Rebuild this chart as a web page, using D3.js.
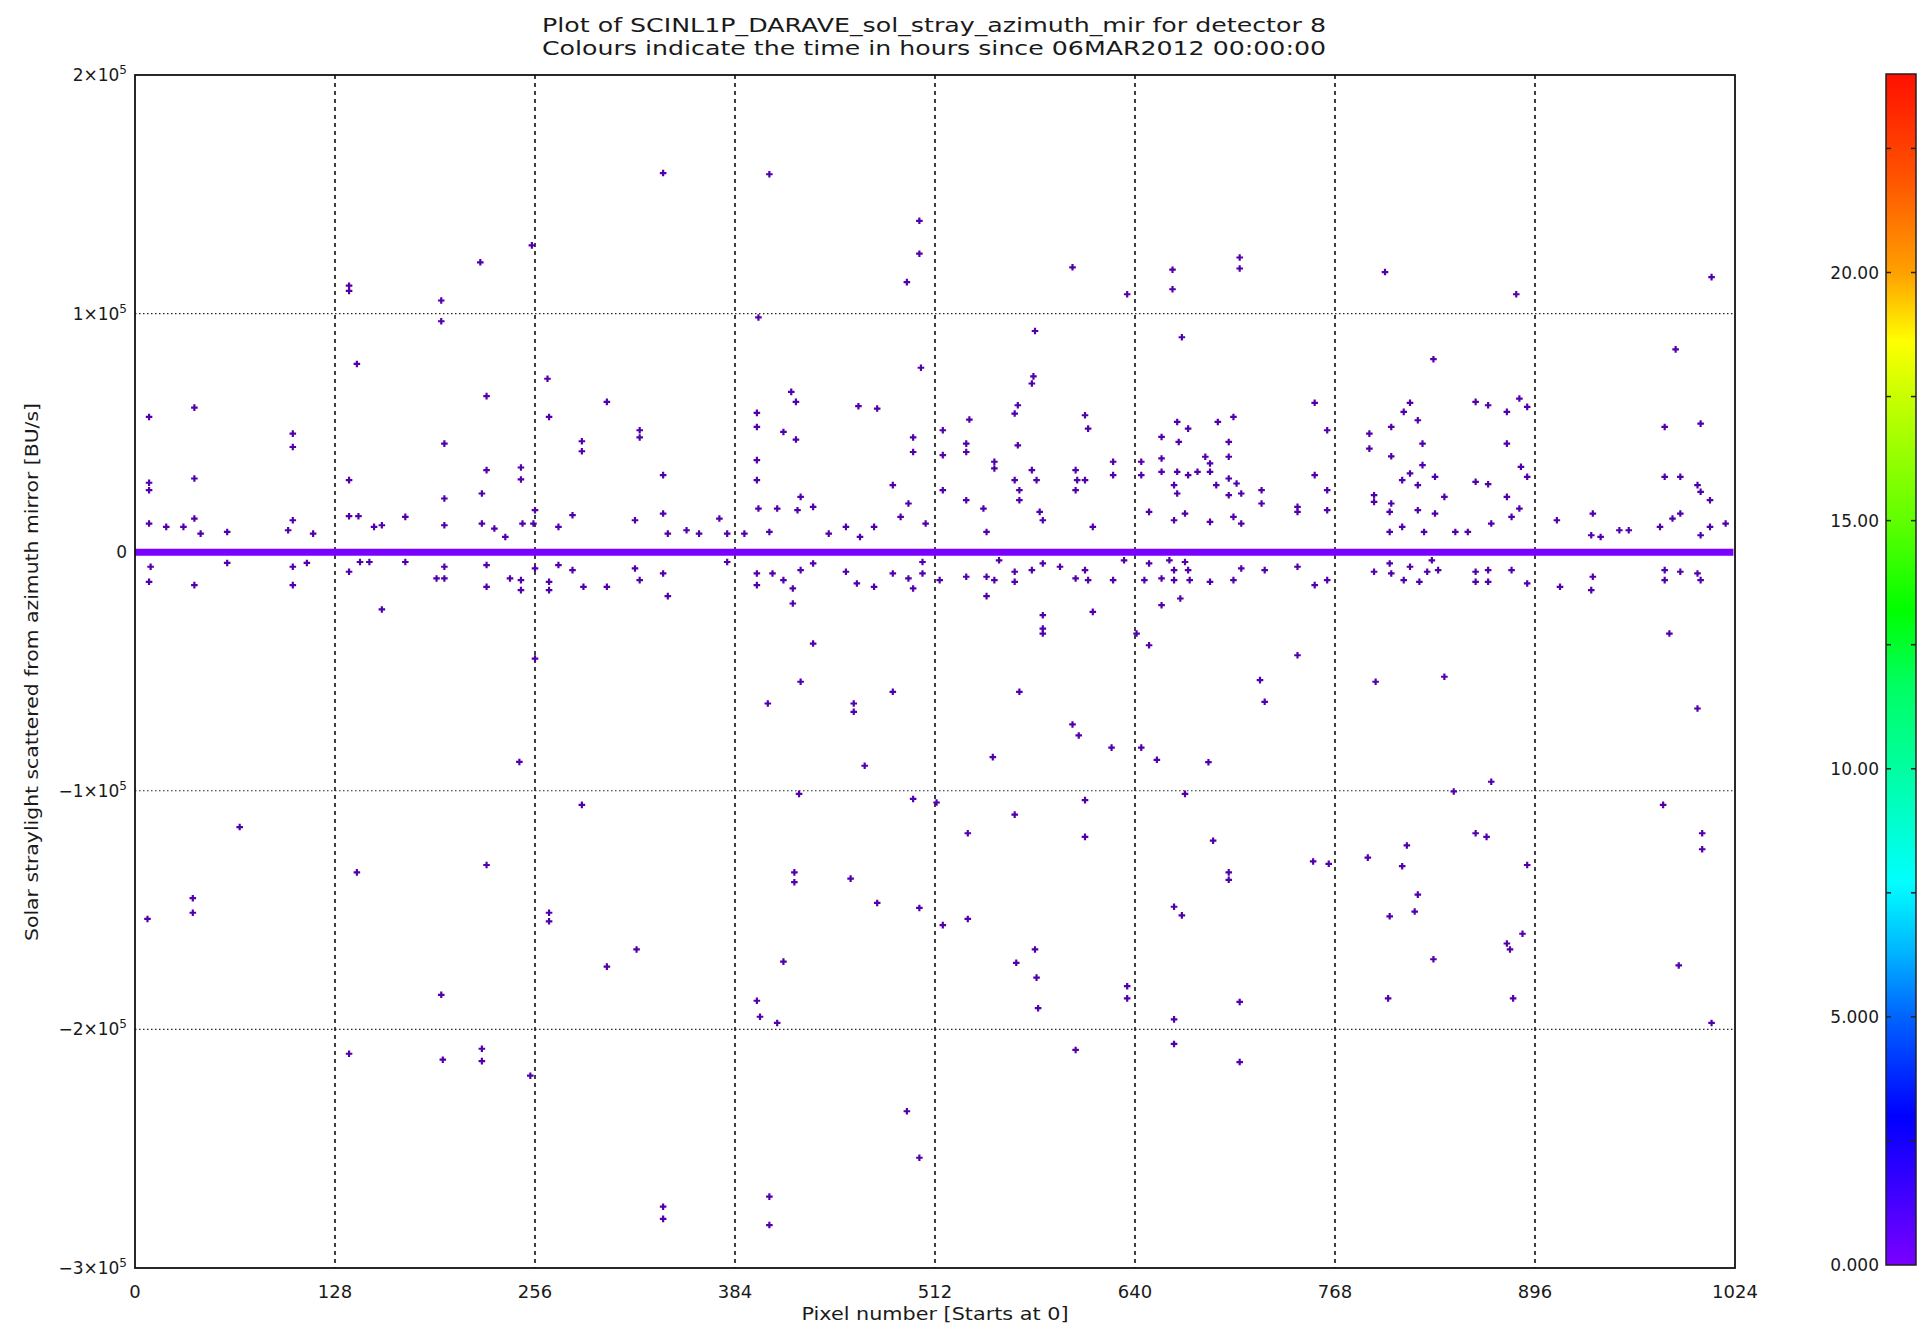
<!DOCTYPE html>
<html><head><meta charset="utf-8">
<script src="https://cdn.jsdelivr.net/npm/d3@7"></script>
<style>
body{margin:0;background:#fff}
text{font-family:"DejaVu Sans",sans-serif;fill:#1a1a1a}
</style>
</head><body><svg id="chart" width="1921" height="1331"></svg>
<script>
// ---------------- DATA ----------------
const titleLines = ["Plot of SCINL1P_DARAVE_sol_stray_azimuth_mir for detector 8",
                    "Colours indicate the time in hours since 06MAR2012 00:00:00"];
const xAxisTitle = "Pixel number [Starts at 0]";
const yAxisTitle = "Solar straylight scattered from azimuth mirror [BU/s]";
const xTicks = [0, 128, 256, 384, 512, 640, 768, 896, 1024];
const xGrid = [128, 256, 384, 512, 640, 768, 896];
// y values in units of 1000 BU/s
const yTicks = [-300, -200, -100, 0, 100, 200];
const yTickMantissa = ["\u22123", "\u22122", "\u22121", "0", "1", "2"];
const yGrid = [-200, -100, 100];
const colourTicks = [0, 5, 10, 15, 20];
const colourTickLabels = ["0.000", "5.000", "10.00", "15.00", "20.00"];
const colourMinorTicks = [2.5, 7.5, 12.5, 17.5, 22.5];
const colourRange = [0, 24];
const pointHours = 0; // all readings near the start of the day

// zero-level band (pixel, kBU/s)
const bandPixels = [0, 1023];
const bandValues = [0, 0];

// [pixel, kBU/s]
const farAbove = [[137,111.7],[137,109.5],[142,78.9],[196,105.5],[196,96.8],[221,121.5],[254,128.6],[264,72.7],[338,158.9],[399,98.4],[406,158.4],[494,113.2],[502,138.9],[502,125.1],[503,77.3],[576,92.7],[575,73.7],[574,70.7],[600,119.4],[635,108.1],[664,118.4],[664,110.2],[670,90.1],[707,123.5],[707,118.9],[800,117.4],[831,80.9],[884,108.1],[986,85.0],[1009,115.3]];

const midAbove = [[9,56.7],[38,60.6],[9,29.1],[9,26.0],[38,30.9],[101,49.7],[101,44.1],[198,45.5],[225,65.4],[225,34.4],[247,35.5],[247,30.5],[265,56.7],[286,46.5],[286,42.3],[302,63.0],[323,51.1],[323,48.1],[338,32.3],[398,58.4],[398,52.5],[398,38.6],[398,30.2],[420,67.2],[423,63.0],[415,50.4],[423,47.2],[426,23.2],[463,61.2],[475,60.2],[498,48.1],[498,42.0],[485,28.1],[137,30.2],[198,22.5],[222,24.6],[495,20.4],
[563,58.1],[565,61.6],[534,55.6],[517,51.1],[517,40.7],[532,45.5],[532,42.0],[565,44.8],[608,57.4],[610,51.8],[550,37.9],[550,35.1],[517,26.0],[532,21.8],[563,30.2],[566,26.0],[566,21.8],[574,34.4],[577,30.2],[602,34.4],[603,30.2],[608,30.2],[602,26.0],[626,37.9],[626,32.3],[667,54.6],[674,51.8],[693,54.6],[703,56.7],[657,48.3],[668,46.2],[700,46.2],[644,37.9],[657,39.3],[685,40.0],[688,37.2],[700,40.0],[644,32.3],[657,33.7],[667,33.7],[674,32.3],[680,33.7],[688,33.7],[700,30.9],[705,28.8],[665,28.1],[667,24.6],[692,28.1],[700,23.9],[708,24.6],[721,26.0],[721,20.4],[763,51.1],[755,62.6],[755,32.3],[763,26.0],[790,49.7],[790,43.4],[804,52.5],[821,55.3],[816,62.6],[812,58.8],[824,45.5],[824,36.5],[804,40.2],[816,33.0],[832,31.6],[811,30.2],[821,28.1],[793,23.9],[793,21.1],[804,20.4],[838,23.2],[878,23.2],[887,35.8],[878,45.5],[858,63.0],[866,61.6],[878,58.8],[886,64.4],[891,60.9],[858,29.5],[866,28.5],[891,31.6],[979,52.5],[1002,53.9],[979,31.6],[989,31.6],[1000,28.1],[1002,25.3],[1008,21.8]];

const nearAbove = [[9,12.0],[20,10.6],[31,10.6],[38,14.1],[42,7.8],[59,8.5],[101,13.4],[98,9.2],[114,7.8],[137,15.1],[143,15.1],[153,10.6],[158,11.3],[173,14.8],[198,11.3],[222,12.0],[230,9.9],[237,6.4],[248,12.0],[256,17.6],[255,12.0],[271,10.6],[280,15.5],[320,13.4],[338,16.2],[341,7.8],[353,9.2],[361,7.8],[374,14.1],[379,7.8],[390,7.8],[399,18.3],[406,8.5],[411,18.3],[424,17.6],[434,19.0],[444,7.8],[455,10.6],[464,6.4],[473,10.6],[490,14.8],[506,12.0],
[543,18.3],[579,16.9],[581,13.4],[545,8.5],[613,10.6],[649,16.9],[672,16.2],[688,12.7],[665,13.4],[703,14.8],[708,12.0],[744,19.0],[744,16.9],[763,17.6],[821,17.6],[832,16.2],[803,16.9],[803,8.5],[811,10.6],[825,8.5],[845,8.5],[853,8.5],[868,12.0],[881,14.8],[886,18.3],[933,16.2],[910,13.4],[932,7.1],[938,6.4],[950,9.2],[956,9.2],[976,10.6],[984,14.1],[989,16.2],[1008,10.6],[1018,12.0],[1002,7.1]];

const nearBelow = [[10,-6.1],[9,-12.4],[38,-13.8],[59,-4.5],[101,-6.1],[101,-13.8],[110,-4.5],[137,-8.2],[144,-4.1],[150,-4.1],[158,-24.0],[173,-4.1],[193,-11.0],[198,-11.0],[198,-6.1],[225,-14.5],[225,-5.4],[240,-11.0],[247,-11.7],[247,-15.9],[256,-6.8],[265,-12.4],[265,-15.9],[271,-5.4],[280,-7.5],[287,-14.5],[302,-14.5],[320,-6.8],[323,-11.7],[338,-8.9],[341,-18.4],[379,-4.1],[398,-8.9],[398,-13.8],[408,-8.9],[415,-11.7],[421,-15.2],[421,-21.5],[434,-4.7],[426,-7.5],[455,-8.2],[462,-13.1],[473,-14.5],[485,-8.9],[495,-11.0],[498,-15.2],[504,-8.9],[504,-4.1],
[515,-11.7],[532,-10.3],[545,-10.3],[550,-11.7],[545,-18.4],[553,-3.4],[563,-8.2],[563,-12.4],[574,-7.5],[581,-4.7],[592,-6.1],[602,-11.0],[608,-7.5],[610,-11.7],[626,-11.7],[633,-3.4],[613,-25.0],[646,-11.7],[657,-11.0],[665,-11.7],[675,-11.7],[688,-12.4],[703,-11.7],[665,-7.5],[674,-7.5],[649,-4.7],[662,-3.4],[672,-4.1],[708,-6.8],[723,-7.5],[744,-6.1],[755,-13.8],[763,-11.7],[793,-8.2],[804,-8.9],[812,-11.7],[822,-12.4],[816,-6.1],[827,-8.2],[834,-7.5],[803,-4.7],[830,-3.4],[858,-8.2],[866,-7.5],[858,-12.4],[866,-12.4],[881,-7.5],[891,-13.1],[912,-14.5],[932,-15.9],[933,-10.3],[979,-7.5],[979,-11.7],[989,-8.2],[1000,-8.9],[1002,-11.7],[669,-19.4],[657,-22.2]];

const midBelow = [[256,-44.6],[434,-38.3],[426,-54.3],[405,-63.4],[460,-63.4],[460,-66.9],[485,-58.5],[581,-26.4],[581,-32.0],[581,-34.1],[641,-34.1],[649,-39.0],[566,-58.5],[744,-43.2],[720,-53.6],[723,-62.7],[982,-34.1],[1000,-65.5],[838,-52.2],[794,-54.3],[600,-72.2],[604,-76.8]];

const farBelow = [[8,-153.7],[37,-145.0],[37,-151.1],[67,-115.2],[137,-210.2],[142,-134.2],[196,-185.5],[197,-212.7],[222,-208.1],[222,-213.3],[225,-131.1],[246,-87.9],[253,-219.4],[265,-151.1],[265,-154.7],[286,-105.9],[302,-173.7],[321,-166.5],[338,-274.3],[338,-279.4],[406,-270.1],[406,-282.0],[398,-188.0],[400,-194.7],[411,-197.3],[415,-171.6],[422,-134.2],[422,-138.3],[425,-101.3],[458,-136.8],[467,-89.5],[475,-147.0],[494,-234.3],[498,-103.4],[502,-149.1],[502,-253.8],[513,-104.9],[517,-156.3],[533,-117.8],[533,-153.7],[549,-85.9],[563,-110.0],[564,-172.1],[576,-166.5],[577,-178.3],[578,-191.1],[602,-208.6],[608,-103.9],[608,-119.3],[625,-81.9],[635,-181.9],[635,-187.0],[644,-81.9],[654,-87.0],[665,-148.6],[670,-152.2],[665,-195.8],[665,-206.1],[672,-101.3],[687,-88.0],[690,-120.9],[700,-134.2],[700,-137.3],[707,-188.5],[707,-213.7],[754,-129.6],[764,-130.6],[789,-128.0],[802,-187.0],[803,-152.6],[811,-131.6],[814,-122.9],[821,-143.5],[819,-150.6],[831,-170.6],[844,-100.3],[858,-117.8],[865,-119.3],[868,-96.2],[878,-164.0],[880,-166.5],[888,-159.9],[882,-187.0],[891,-131.1],[978,-105.9],[988,-173.2],[1003,-117.8],[1003,-124.5],[1009,-197.3]];

// rainbow colour table stops [hours, colour]
const colourStops = [[0,"#7a00ff"],[1.5,"#3c00ff"],[3,"#0000ff"],[5,"#0064ff"],[6.3,"#00b4ff"],[7.7,"#00ffff"],[10,"#00ffa0"],[11.7,"#00ff60"],[13.2,"#00ff00"],[15,"#60ff00"],[17.5,"#c8ff00"],[18.6,"#ffff00"],[20,"#ffa000"],[22,"#ff5000"],[24,"#ff1000"]];

// ---------------- DRAW ----------------
const svg = d3.select("#chart");
svg.append("rect").attr("width",1921).attr("height",1331).attr("fill","#fff");

const x = d3.scaleLinear().domain([0,1024]).range([135,1735]);
const y = d3.scaleLinear().domain([-300,200]).range([1268,75]);
const cy = d3.scaleLinear().domain(colourRange).range([1265,74]);
const colour = d3.scaleLinear().domain(colourStops.map(d=>d[0])).range(colourStops.map(d=>d[1]));

// titles
svg.selectAll("text.title").data(titleLines).enter().append("text")
  .attr("class","title").attr("x",934).attr("y",(d,i)=>32+i*23)
  .attr("text-anchor","middle").attr("font-size",19)
  .attr("textLength",784).attr("lengthAdjust","spacingAndGlyphs").text(d=>d);

// grid
const g = svg.append("g");
g.selectAll("line.vg").data(xGrid).enter().append("line")
  .attr("x1",d=>x(d)).attr("x2",d=>x(d)).attr("y1",y(200)).attr("y2",y(-300))
  .attr("stroke","#111").attr("stroke-width",1.6).attr("stroke-dasharray","4,4");
g.selectAll("line.hg").data(yGrid).enter().append("line")
  .attr("x1",x(0)).attr("x2",x(1024)).attr("y1",d=>y(d)).attr("y2",d=>y(d))
  .attr("stroke","#222").attr("stroke-width",1.1).attr("stroke-dasharray","1.5,2.5");

// band at zero
const bandLine = d3.line().x(d=>x(d[0])).y(d=>y(d[1]));
g.append("path").datum(bandPixels.map((p,i)=>[p,bandValues[i]]))
  .attr("d",bandLine).attr("stroke",colour(pointHours)).attr("stroke-width",7).attr("fill","none");

// points
const allPoints = [].concat(farAbove, midAbove, nearAbove, nearBelow, midBelow, farBelow);
const sym = d3.symbol().type(d3.symbolCross).size(24);
g.selectAll("path.pt").data(allPoints).enter().append("path")
  .attr("class","pt").attr("d",sym)
  .attr("transform",d=>`translate(${x(d[0])},${y(d[1])})`)
  .attr("fill", d3.color(colour(pointHours)).darker(1.1).formatHex());

// frame
svg.append("rect").attr("x",x(0)).attr("y",y(200)).attr("width",x(1024)-x(0)).attr("height",y(-300)-y(200))
  .attr("fill","none").attr("stroke","#111").attr("stroke-width",1.8);

// x tick labels
svg.selectAll("text.xt").data(xTicks).enter().append("text")
  .attr("x",d=>x(d)).attr("y",1298).attr("text-anchor","middle").attr("font-size",18).text(d=>d);

// y tick labels
yTicks.forEach((v,i)=>{
  const t = svg.append("text").attr("x",127).attr("y",y(v)+6).attr("text-anchor","end").attr("font-size",17);
  if (v === 0) { t.text("0"); return; }
  t.append("tspan").text(yTickMantissa[i] + "\u00d710");
  t.append("tspan").attr("dy",-7).attr("font-size",12).text("5");
});

// axis titles
svg.append("text").attr("x",935).attr("y",1320).attr("text-anchor","middle").attr("font-size",17)
  .attr("textLength",267).attr("lengthAdjust","spacingAndGlyphs").text(xAxisTitle);
svg.append("text").attr("transform","translate(38,672) rotate(-90)").attr("text-anchor","middle")
  .attr("font-size",17).attr("textLength",538).attr("lengthAdjust","spacingAndGlyphs").text(yAxisTitle);

// colour bar
const defs = svg.append("defs");
const grad = defs.append("linearGradient").attr("id","cbar").attr("x1",0).attr("y1",1).attr("x2",0).attr("y2",0);
grad.selectAll("stop").data(colourStops).enter().append("stop")
  .attr("offset",d=>(d[0]-colourRange[0])/(colourRange[1]-colourRange[0]))
  .attr("stop-color",d=>d[1]);
const cbX = 1886, cbW = 30;
svg.append("rect").attr("x",cbX).attr("y",cy(24)).attr("width",cbW).attr("height",cy(0)-cy(24))
  .attr("fill","url(#cbar)").attr("stroke","#222").attr("stroke-width",1.5);
const allCT = colourTicks.concat(colourMinorTicks).filter(v=>v>0);
svg.selectAll("line.ctl").data(allCT).enter().append("line")
  .attr("x1",cbX).attr("x2",cbX+5).attr("y1",d=>cy(d)).attr("y2",d=>cy(d)).attr("stroke","#222").attr("stroke-width",1.5);
svg.selectAll("line.ctr").data(allCT).enter().append("line")
  .attr("x1",cbX+cbW-5).attr("x2",cbX+cbW).attr("y1",d=>cy(d)).attr("y2",d=>cy(d)).attr("stroke","#222").attr("stroke-width",1.5);
svg.selectAll("text.ct").data(colourTicks).enter().append("text")
  .attr("x",1879).attr("y",d=>cy(d)+6).attr("text-anchor","end").attr("font-size",17)
  .text((d,i)=>colourTickLabels[i]);
</script></body></html>
